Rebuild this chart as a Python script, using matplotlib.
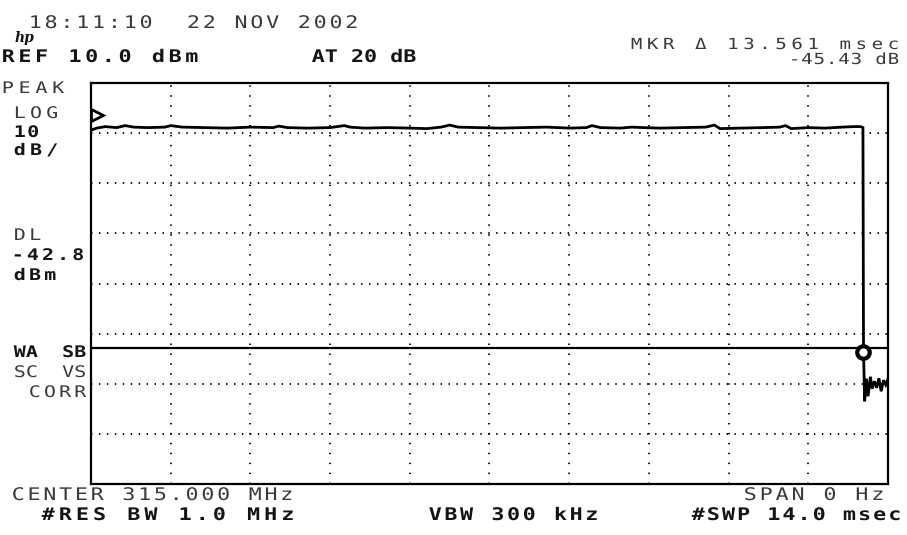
"""Zero-span spectrum analyzer plot (HP hardcopy style), redrawn with matplotlib."""

import numpy as np
import matplotlib

matplotlib.use("Agg")
import matplotlib.pyplot as plt
from matplotlib.path import Path
from matplotlib.patheffects import AbstractPathEffect

# ---------------------------------------------------------------------------
# Data (read off the hardcopy)
# ---------------------------------------------------------------------------

REF_LEVEL = 10.0        # dBm, top graticule line
DB_PER_DIV = 10.0
N_YDIV = 8
SWEEP_MS = 14.0
N_XDIV = 10
DISPLAY_LINE = -42.8    # dBm

# carrier on, time in msec / level in dBm
trace_t = [0.00, 0.10, 0.25, 0.45, 0.60, 0.75, 1.00, 1.30, 1.40, 1.60,
           2.00, 2.40, 2.80, 3.20, 3.30, 3.45, 3.80, 4.20, 4.45, 4.55,
           4.80, 5.20, 5.60, 5.90, 6.15, 6.30, 6.45, 6.80, 7.20, 7.60,
           8.00, 8.40, 8.70, 8.80, 8.95, 9.30, 9.50, 9.70, 10.00, 10.40,
           10.80, 10.95, 11.05, 11.40, 11.80, 12.10, 12.20, 12.30, 12.60, 12.90,
           13.20, 13.40, 13.52, 13.56,
           # carrier off: drop and noise floor
           13.57, 13.59, 13.62, 13.65, 13.69, 13.72, 13.76, 13.80, 13.84, 13.88,
           13.92, 13.96, 14.00]
trace_dbm = [0.6, 1.0, 1.3, 1.1, 1.5, 1.2, 1.1, 1.2, 1.5, 1.2,
             1.1, 1.0, 1.2, 1.1, 1.4, 1.1, 1.0, 1.1, 1.5, 1.2,
             1.0, 1.1, 1.0, 0.9, 1.2, 1.6, 1.2, 1.1, 1.0, 1.1,
             1.2, 1.0, 1.1, 1.5, 1.1, 1.0, 1.2, 1.1, 1.0, 1.1,
             1.2, 1.6, 0.9, 1.0, 1.1, 1.2, 1.5, 0.9, 1.1, 1.0,
             1.2, 1.3, 1.3, 1.1,
             -43.7, -53.5, -49.0, -52.5, -48.6, -51.0, -49.5, -50.8, -48.9, -51.5,
             -49.3, -50.2, -49.0]

ref_marker = (0.10, 3.6)        # reference marker (triangle)
delta_marker = (13.561, -43.7)  # delta marker

# ---------------------------------------------------------------------------
# Letter-spaced monospace text, like the analyzer's character generator
# ---------------------------------------------------------------------------

W, H, DPI = 907, 535, 100
MONO = "DejaVu Sans Mono"
ADV = 0.60205            # advance width of DejaVu Sans Mono, in em
GLYPH_X = 1.25           # glyphs of the analyzer font are wider than DejaVu's
DARK = "#141414"
GREY = "#3a3a3a"


class Tracking(AbstractPathEffect):
    """Widen and spread the glyphs of a monospaced text path."""

    def __init__(self, ratio, widen=GLYPH_X):
        super().__init__()
        self.ratio = ratio
        self.widen = widen

    def draw_path(self, renderer, gc, tpath, affine, rgbFace=None):
        verts = tpath.vertices.copy()
        codes = tpath.codes
        if codes is not None and len(verts):
            adv = ADV * 100.0  # text paths come at FONT_SCALE = 100
            starts = np.flatnonzero(codes == Path.MOVETO)
            ends = np.append(starts[1:], len(verts))
            for s, e in zip(starts, ends):
                keep = codes[s:e] != Path.CLOSEPOLY
                k = np.floor(verts[s:e][keep, 0].mean() / adv)
                mid = (k + 0.5) * adv
                verts[s:e, 0] = mid + (verts[s:e, 0] - mid) * self.widen
                verts[s:e, 0] += k * adv * (self.ratio - 1.0)
            tpath = Path(verts, codes)
        renderer.draw_path(gc, tpath, affine, rgbFace)


def label(fig, s, x_left, x_right, y_base, size=12.5, weight="bold", color=DARK):
    """Put string s so that its glyphs run from x_left to x_right (pixels)."""
    em = size * DPI / 72.0
    glyph_w = 0.6 * em
    n = len(s)
    pitch = (x_right - x_left - glyph_w) / max(n - 1, 1)
    fig.text(x_left / W, 1 - y_base / H, s, family=MONO, fontsize=size,
             weight=weight, color=color, ha="left", va="baseline",
             path_effects=[Tracking(pitch / (ADV * em))])


# ---------------------------------------------------------------------------
# Figure
# ---------------------------------------------------------------------------

fig = plt.figure(figsize=(W / DPI, H / DPI), dpi=DPI, facecolor="white")
ax = fig.add_axes([91 / W, (H - 484) / H, 797 / W, 401 / H])
ax.set_facecolor("white")

bottom = REF_LEVEL - N_YDIV * DB_PER_DIV
ax.set_xlim(0, SWEEP_MS)
ax.set_ylim(bottom, REF_LEVEL)
ax.set_xticks(np.linspace(0, SWEEP_MS, N_XDIV + 1))
ax.set_yticks(np.linspace(bottom, REF_LEVEL, N_YDIV + 1))
ax.tick_params(length=0, labelbottom=False, labelleft=False)

# dotted graticule
ax.yaxis.grid(True, color="black", linewidth=1.3, linestyle=(0, (0.8, 3.6)))
ax.xaxis.grid(True, color="black", linewidth=1.3, linestyle=(0, (0.8, 4.7)))
ax.set_axisbelow(True)
for sp in ax.spines.values():
    sp.set_linewidth(1.6)
    sp.set_color("black")

# display line
ax.axhline(DISPLAY_LINE, color="black", linewidth=1.6)

# trace
ax.plot(trace_t, trace_dbm, color="black", linewidth=2.0, solid_joinstyle="miter")

# markers
ax.plot(*ref_marker, marker=">", markersize=9, markerfacecolor="white",
        markeredgecolor="black", markeredgewidth=2.0, clip_on=False)
ax.plot(*delta_marker, marker="o", markersize=9, markerfacecolor="white",
        markeredgecolor="black", markeredgewidth=3.0, clip_on=False)

# ---------------------------------------------------------------------------
# Annotations
# ---------------------------------------------------------------------------

label(fig, "18:11:10  22 NOV 2002", 30, 357, 28, weight="normal", color=GREY)
fig.text(15 / W, 1 - 42 / H, "hp", family="DejaVu Serif", fontsize=10,
         style="italic", weight="bold", color=DARK, va="baseline")
label(fig, "REF 10.0 dBm", 3, 197, 62)
label(fig, "AT 20 dB", 313, 415, 62)
label(fig, "MKR \u0394 13.561 msec", 632, 898, 49, size=11, weight="normal", color=GREY)
label(fig, "-45.43 dB", 790, 898, 64, size=11, weight="normal", color=GREY)

label(fig, "PEAK", 3, 63, 93, size=11.5, weight="normal", color=GREY)
label(fig, "LOG", 15, 57, 118, size=11.5, weight="normal", color=GREY)
label(fig, "10", 15, 38, 137, size=11.5)
label(fig, "dB/", 15, 57, 155, size=11.5)
label(fig, "DL", 15, 40, 240, size=11.5, weight="normal", color=GREY)
label(fig, "-42.8", 13, 83, 260, size=11.5)
label(fig, "dBm", 15, 55, 280, size=11.5)
label(fig, "WA  SB", 15, 85, 357, size=11.5)
label(fig, "SC  VS", 15, 85, 377, size=11.5, weight="normal", color=GREY)
label(fig, "CORR", 30, 85, 397, size=11.5, weight="normal", color=GREY)

label(fig, "CENTER 315.000 MHz", 13, 292, 500, weight="normal", color=GREY)
label(fig, "#RES BW 1.0 MHz", 43, 293, 520)
label(fig, "VBW 300 kHz", 430, 597, 520)
label(fig, "SPAN 0 Hz", 745, 883, 500, weight="normal", color=GREY)
label(fig, "#SWP 14.0 msec", 693, 900, 520)

fig.savefig("out.png", dpi=DPI, facecolor="white")
